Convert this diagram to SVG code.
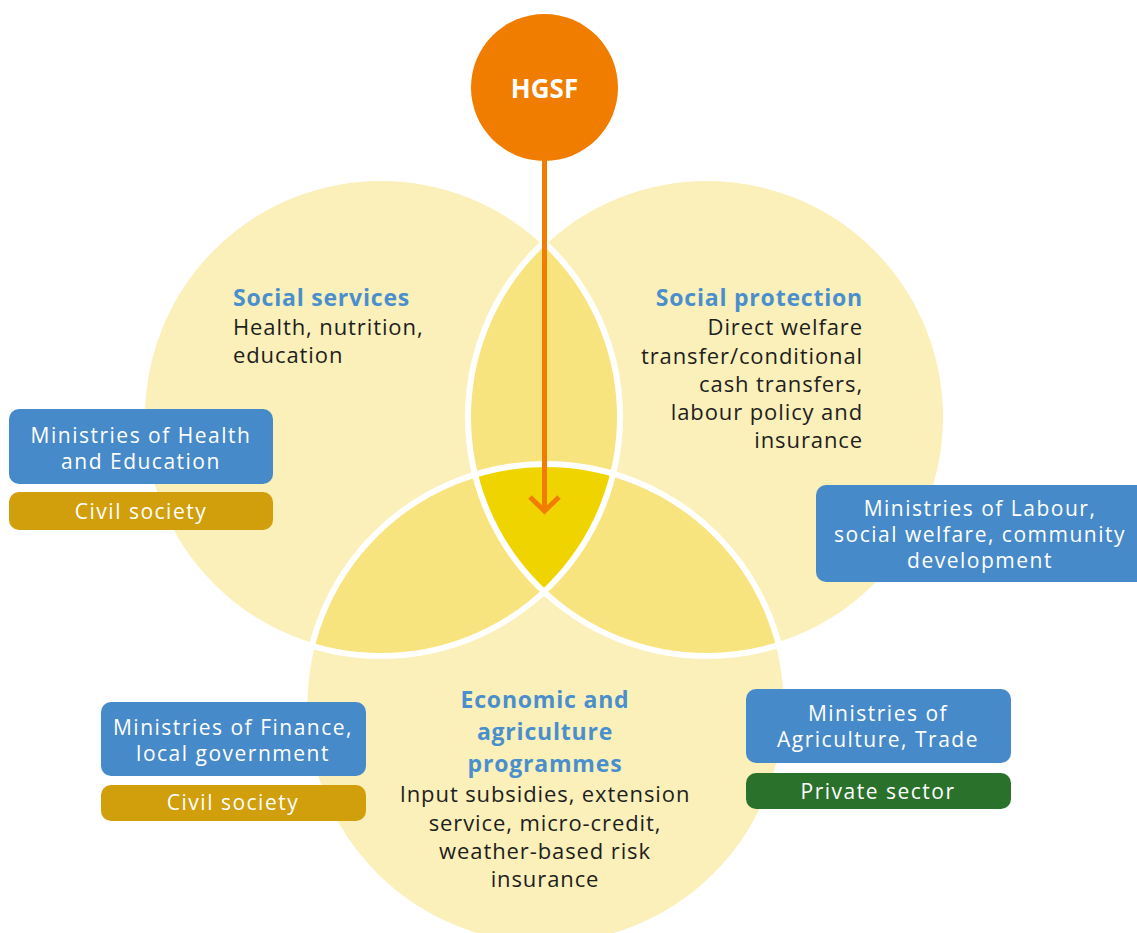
<svg xmlns="http://www.w3.org/2000/svg" width="1137" height="933" viewBox="0 0 1137 933">
<style>
.ring{fill:none;stroke:#ffffff;stroke-width:6}
.light{fill:#FBF0B9}
.lens{fill:#F8E47F}
.core{fill:#F0D400}
.title{font-family:"Open Sans","Liberation Sans",sans-serif;font-weight:700;font-size:23px;letter-spacing:0.8px;fill:#4A8FCD}
.body{font-family:"Open Sans","Liberation Sans",sans-serif;font-size:22px;letter-spacing:0.9px;fill:#1E1E1E}
.box{font-family:"Open Sans","Liberation Sans",sans-serif;font-size:21px;letter-spacing:1.5px;fill:#ffffff;text-anchor:middle}
.blue{fill:#478AC9}
.gold{fill:#D19E0C}
.green{fill:#2A722C}
.arrow{fill:none;stroke:#F07D00;stroke-width:5}
</style>
<defs>
<clipPath id="cL"><circle cx="381" cy="417" r="239"/></clipPath>
<clipPath id="cR"><circle cx="707" cy="417" r="239"/></clipPath>
<clipPath id="cB"><circle cx="545.5" cy="705" r="241"/></clipPath>
</defs>
<rect width="1137" height="933" fill="#ffffff"/>
<g id="venn">
<circle class="light" cx="381" cy="417" r="239"/>
<circle class="light" cx="707" cy="417" r="239"/>
<circle class="light" cx="545.5" cy="705" r="241"/>
<circle class="lens" cx="381" cy="417" r="239" clip-path="url(#cR)"/>
<circle class="lens" cx="381" cy="417" r="239" clip-path="url(#cB)"/>
<circle class="lens" cx="707" cy="417" r="239" clip-path="url(#cB)"/>
<g clip-path="url(#cB)"><circle class="core" cx="381" cy="417" r="239" clip-path="url(#cR)"/></g>
<circle class="ring" cx="381" cy="417" r="239"/>
<circle class="ring" cx="707" cy="417" r="239"/>
<circle class="ring" cx="545.5" cy="705" r="241"/>
</g>
<g id="social-services">
<text class="title" x="233" y="306">Social services</text>
<text class="body"><tspan x="233" y="335">Health, nutrition,</tspan><tspan x="233" y="363">education</tspan></text>
</g>
<g id="social-protection" text-anchor="end">
<text class="title" x="863" y="306">Social protection</text>
<text class="body"><tspan x="863" y="335">Direct welfare</tspan><tspan x="863" y="364">transfer/conditional</tspan><tspan x="863" y="392">cash transfers,</tspan><tspan x="863" y="420">labour policy and</tspan><tspan x="863" y="448">insurance</tspan></text>
</g>
<g id="economic" text-anchor="middle">
<text class="title"><tspan x="545" y="708">Economic and</tspan><tspan x="545" y="740">agriculture</tspan><tspan x="545" y="772">programmes</tspan></text>
<text class="body"><tspan x="545" y="802">Input subsidies, extension</tspan><tspan x="545" y="831">service, micro-credit,</tspan><tspan x="545" y="859">weather-based risk</tspan><tspan x="545" y="887">insurance</tspan></text>
</g>
<g id="ministries-health-education">
<rect class="blue" x="9" y="409" width="264" height="75" rx="10"/>
<text class="box"><tspan x="141" y="443">Ministries of Health</tspan><tspan x="141" y="469">and Education</tspan></text>
</g>
<g id="civil-society-1">
<rect class="gold" x="9" y="492" width="264" height="38" rx="10"/>
<text class="box" x="141" y="519">Civil society</text>
</g>
<g id="ministries-labour">
<rect class="blue" x="816" y="485" width="331" height="97" rx="10"/>
<text class="box"><tspan x="980" y="516">Ministries of Labour,</tspan><tspan x="980" y="542">social welfare, community</tspan><tspan x="980" y="568">development</tspan></text>
</g>
<g id="ministries-finance">
<rect class="blue" x="101" y="702" width="265" height="74" rx="10"/>
<text class="box"><tspan x="233" y="735">Ministries of Finance,</tspan><tspan x="233" y="761">local government</tspan></text>
</g>
<g id="civil-society-2">
<rect class="gold" x="101" y="785" width="265" height="36" rx="10"/>
<text class="box" x="233" y="810">Civil society</text>
</g>
<g id="ministries-agriculture">
<rect class="blue" x="746" y="689" width="265" height="74" rx="10"/>
<text class="box"><tspan x="878" y="721">Ministries of</tspan><tspan x="878" y="747">Agriculture, Trade</tspan></text>
</g>
<g id="private-sector">
<rect class="green" x="746" y="773" width="265" height="36" rx="10"/>
<text class="box" x="878" y="799">Private sector</text>
</g>
<g id="connectors">
<line class="arrow" x1="544.5" y1="150" x2="544.5" y2="509"/>
<polyline class="arrow" points="530,497 544.5,511 559,497"/>
</g>
<g id="hgsf">
<circle cx="544.5" cy="87.5" r="73.5" fill="#F07D00"/>
<text x="544.5" y="98" text-anchor="middle" font-family="'Open Sans','Liberation Sans',sans-serif" font-weight="700" font-size="26" fill="#ffffff">HGSF</text>
</g>
</svg>
